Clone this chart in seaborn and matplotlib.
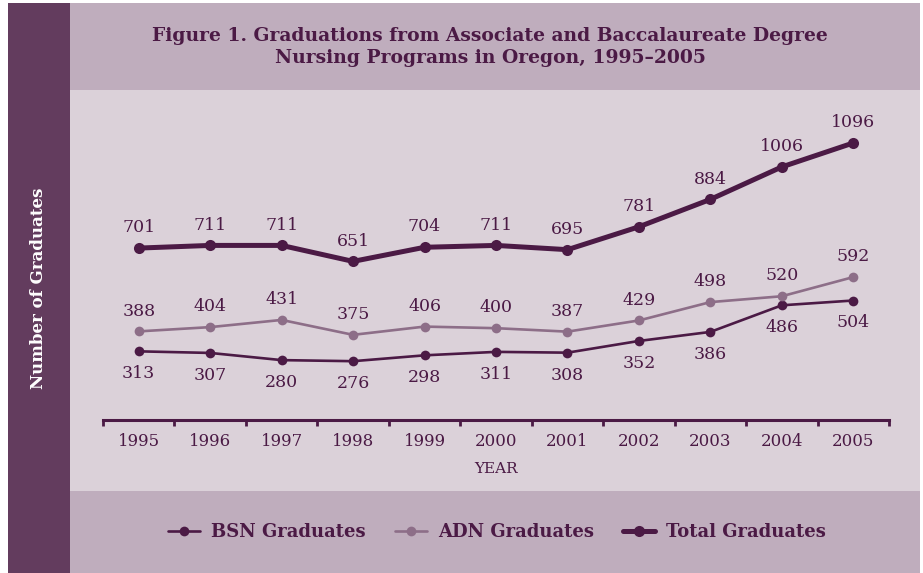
import matplotlib
matplotlib.use("Agg")
import matplotlib.pyplot as plt
import seaborn as sns
import pandas as pd
from matplotlib.patches import Rectangle
from matplotlib.ticker import FixedLocator

years = [1995, 1996, 1997, 1998, 1999, 2000, 2001, 2002, 2003, 2004, 2005]
bsn = [313, 307, 280, 276, 298, 311, 308, 352, 386, 486, 504]
adn = [388, 404, 431, 375, 406, 400, 387, 429, 498, 520, 592]
total = [701, 711, 711, 651, 704, 711, 695, 781, 884, 1006, 1096]
series_names = ["BSN Graduates", "ADN Graduates", "Total Graduates"]

DARK = "#4B1A45"
ADN_C = "#8D6E88"
BAND = "#633C5E"
TITLE_BG = "#BFADBD"
PLOT_BG = "#DBD1D9"

sns.set_theme(style="white")
plt.rcParams["font.family"] = ["DejaVu Serif"]

W, H = 923, 573
fig = plt.figure(figsize=(W / 100, H / 100), dpi=100)
fig.patch.set_facecolor("white")

def px_rect(x0, y0, x1, y1, color):
    fig.patches.append(Rectangle((x0 / W, 1 - y1 / H), (x1 - x0) / W, (y1 - y0) / H,
                                 transform=fig.transFigure, facecolor=color,
                                 edgecolor="none", zorder=-10))

px_rect(8, 3, 920, 90, TITLE_BG)
px_rect(8, 90, 920, 491, PLOT_BG)
px_rect(8, 491, 920, 573, TITLE_BG)
px_rect(8, 3, 70, 573, BAND)

ax = fig.add_axes([103 / W, 1 - 420 / H, (889 - 103) / W, (420 - 90) / H])
ax.set_facecolor("none")

df = pd.DataFrame({
    "Year": years * 3,
    "Value": bsn + adn + total,
    "Series": [series_names[0]] * len(years) + [series_names[1]] * len(years) + [series_names[2]] * len(years),
})

styles = {
    series_names[0]: dict(color=DARK, lw=1.9, ms=7),
    series_names[1]: dict(color=ADN_C, lw=1.9, ms=7),
    series_names[2]: dict(color=DARK, lw=3.6, ms=8),
}
for name in series_names:
    st = styles[name]
    sub = df[df["Series"] == name]
    sns.lineplot(data=sub, x="Year", y="Value", ax=ax, color=st["color"], lw=st["lw"],
                 marker="o", markersize=st["ms"], markeredgewidth=0, label=name, legend=False)

# value labels
for x, v in zip(years, total):
    ax.annotate(str(v), (x, v), xytext=(0, 8.5), textcoords="offset points",
                ha="center", va="bottom", fontsize=12.5, color=DARK)
for x, v in zip(years, adn):
    ax.annotate(str(v), (x, v), xytext=(0, 8.5), textcoords="offset points",
                ha="center", va="bottom", fontsize=12.5, color=DARK)
for x, v in zip(years, bsn):
    ax.annotate(str(v), (x, v), xytext=(0, -10), textcoords="offset points",
                ha="center", va="top", fontsize=12.5, color=DARK)

ax.set_xlim(years[0] - 0.5, years[-1] + 0.5)
ax.set_ylim(55, 1295)
ax.set_xticks(years)
ax.set_xticklabels([str(y) for y in years], fontsize=12, color=DARK)
ax.xaxis.set_minor_locator(FixedLocator([y - 0.5 for y in years] + [years[-1] + 0.5]))
ax.tick_params(axis="x", which="major", length=0, pad=9)
ax.tick_params(axis="x", which="minor", length=4, width=2, color=DARK, direction="out", bottom=True)
ax.set_yticks([])
for s in ["top", "left", "right"]:
    ax.spines[s].set_visible(False)
ax.spines["bottom"].set_color(DARK)
ax.spines["bottom"].set_linewidth(2.2)
ax.set_xlabel("YEAR", fontsize=11, color=DARK, labelpad=9)
ax.set_ylabel("")

fig.text(39 / W, 1 - 288 / H, "Number of Graduates", rotation=90, ha="center", va="center",
         fontsize=12, fontweight="bold", color="white")

fig.text(490 / W, 1 - 47 / H,
         "Figure 1. Graduations from Associate and Baccalaureate Degree\nNursing Programs in Oregon, 1995–2005",
         ha="center", va="center", fontsize=13.5, fontweight="bold", color=DARK, linespacing=1.3)

handles, labels = ax.get_legend_handles_labels()
leg = fig.legend(handles, labels, loc="center", bbox_to_anchor=(497 / W, 1 - 532 / H), ncol=3,
                 frameon=False, handlelength=1.8, columnspacing=1.6, handletextpad=0.6,
                 prop={"size": 13, "weight": "bold"})
for t in leg.get_texts():
    t.set_color(DARK)

fig.savefig("out.png", dpi=100, facecolor=fig.get_facecolor())
